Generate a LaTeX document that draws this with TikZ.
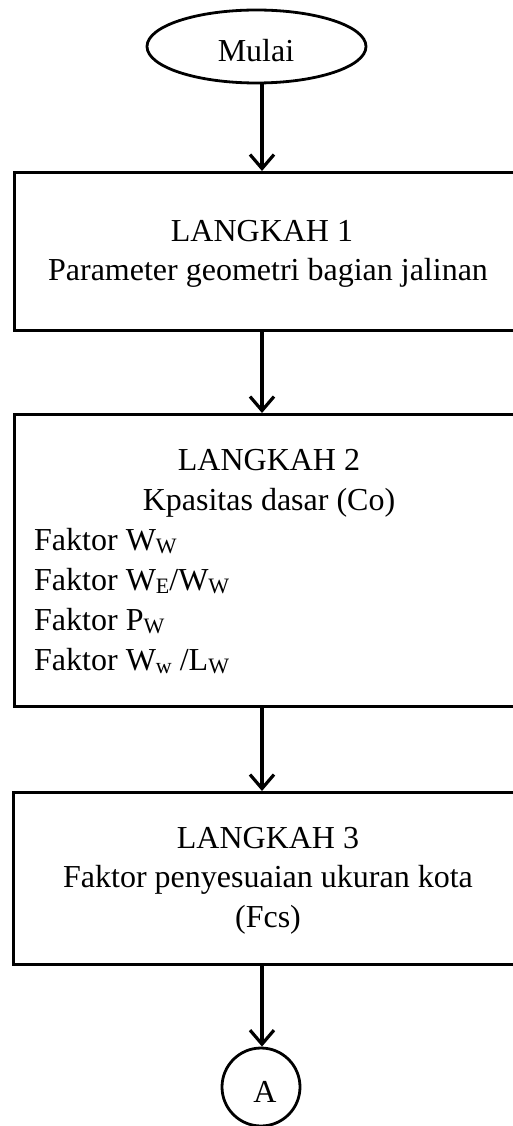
\documentclass[tikz,border=0pt]{standalone}
\usepackage{fontspec}
\setmainfont{Liberation Serif}
\usetikzlibrary{arrows.meta,shapes.geometric}
\newcommand{\sbw}[1]{\raisebox{-0.12em}{\fontsize{22}{22}\selectfont #1}}
\tikzset{
  boxnode/.style={draw, line width=3pt, rectangle, inner sep=0pt, anchor=north west},
  txt/.style={inner sep=0pt, anchor=base, font=\fontsize{32}{38}\selectfont},
  ltxt/.style={inner sep=0pt, anchor=base west, font=\fontsize{32}{38}\selectfont},
  arr/.style={line width=3.2pt, -{Straight Barb[length=14pt,width=24pt,line width=3.2pt]}},
}
\begin{document}
\begin{tikzpicture}[x=1pt,y=-1pt]
\useasboundingbox (0,0) rectangle (513,1126);
\coordinate (ax) at (262,0);
% start
\node[draw, ellipse, line width=2.8pt, minimum width=219pt, minimum height=73pt, inner sep=0pt] (mulai) at (256.5,46.5) {};
\node[txt] (tmulai) at (256,62) {Mulai};
% box 1
\node[boxnode, minimum width=510pt, minimum height=158pt] (b1) at (13,171) {};
\node[txt] (t1a) at (262,241) {LANGKAH 1};
\node[txt] (t1b) at (268,280) {Parameter geometri bagian jalinan};
% box 2
\node[boxnode, minimum width=510pt, minimum height=292pt] (b2) at (13,413) {};
\node[txt] (t2a) at (269,470) {LANGKAH 2};
\node[txt] (t2b) at (269,510) {Kpasitas dasar (Co)};
\node[ltxt] (t2c) at (34,550) {Faktor W\sbw{W}};
\node[ltxt] (t2d) at (34,590) {Faktor W\sbw{E}/W\sbw{W}};
\node[ltxt] (t2e) at (34,630) {Faktor P\sbw{W}};
\node[ltxt] (t2f) at (34,670) {Faktor W\sbw{w} /L\sbw{W}};
% box 3
\node[boxnode, minimum width=510pt, minimum height=172pt] (b3) at (12,791) {};
\node[txt] (t3a) at (268,848) {LANGKAH 3};
\node[txt] (t3b) at (268,887) {Faktor penyesuaian ukuran kota};
\node[txt] (t3c) at (268,927) {(Fcs)};
% connector
\node[draw, circle, line width=2.8pt, minimum size=78pt, inner sep=0pt] (conA) at (261,1087) {};
\node[txt] (tA) at (265,1102) {A};
% arrows
\draw[arr] (mulai.south -| ax) -- (b1.north -| ax);
\draw[arr] (b1.south -| ax) -- (b2.north -| ax);
\draw[arr] (b2.south -| ax) -- (b3.north -| ax);
\draw[arr] (b3.south -| ax) -- (conA.north -| ax);
\end{tikzpicture}
\end{document}
